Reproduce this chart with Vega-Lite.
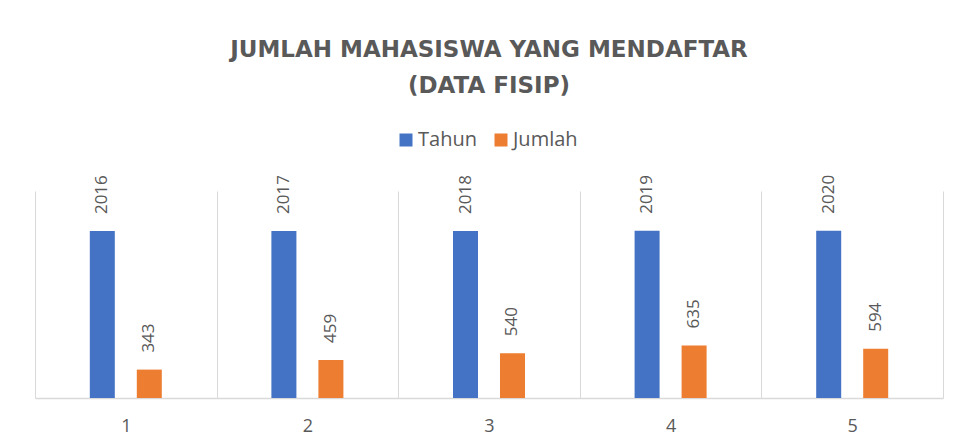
{
  "$schema": "https://vega.github.io/schema/vega-lite/v6.json",
  "width": 908,
  "height": 207,
  "autosize": {"type": "none"},
  "padding": {"left": 35, "top": 191, "right": 17, "bottom": 48},
  "background": "white",
  "title": {
    "text": ["JUMLAH MAHASISWA YANG MENDAFTAR", "(DATA FISIP)"],
    "anchor": "middle",
    "font": "DejaVu Sans",
    "fontSize": 23,
    "fontWeight": "bold",
    "color": "#595959",
    "lineHeight": 36,
    "offset": 32
  },
  "data": {
    "values": [
      {"cat": "1", "series": "Tahun", "value": 2016},
      {"cat": "1", "series": "Jumlah", "value": 343},
      {"cat": "2", "series": "Tahun", "value": 2017},
      {"cat": "2", "series": "Jumlah", "value": 459},
      {"cat": "3", "series": "Tahun", "value": 2018},
      {"cat": "3", "series": "Jumlah", "value": 540},
      {"cat": "4", "series": "Tahun", "value": 2019},
      {"cat": "4", "series": "Jumlah", "value": 635},
      {"cat": "5", "series": "Tahun", "value": 2020},
      {"cat": "5", "series": "Jumlah", "value": 594}
    ]
  },
  "encoding": {
    "x": {
      "field": "cat",
      "type": "nominal",
      "scale": {"paddingInner": 0, "paddingOuter": 0},
      "axis": {
        "title": null,
        "labelAngle": 0,
        "labelFont": "Open Sans",
        "labelFontSize": 18,
        "labelColor": "#595959",
        "labelPadding": 19,
        "ticks": false,
        "domainColor": "#D9D9D9",
        "domainWidth": 1.5,
        "grid": true,
        "gridColor": "#D9D9D9",
        "gridWidth": 1,
        "tickBand": "extent"
      }
    },
    "xOffset": {
      "field": "series",
      "type": "nominal",
      "sort": ["Tahun", "Jumlah"],
      "scale": {"domain": ["Tahun", "Jumlah"], "paddingInner": 0.136, "paddingOuter": 1}
    },
    "y": {
      "field": "value",
      "type": "quantitative",
      "scale": {"domain": [0, 2500]},
      "axis": null
    }
  },
  "layer": [
    {
      "mark": {"type": "bar", "width": 25},
      "encoding": {
        "color": {
          "field": "series",
          "type": "nominal",
          "scale": {"domain": ["Tahun", "Jumlah"], "range": ["#4472C4", "#ED7D31"]},
          "legend": {
            "title": null,
            "orient": "none",
            "direction": "horizontal",
            "legendX": 361,
            "legendY": -61,
            "padding": 0,
            "symbolType": "square",
            "symbolSize": 169,
            "symbolStrokeWidth": 0,
            "symbolOpacity": 1,
            "labelOffset": 2,
            "columnPadding": 14,
            "labelFont": "Open Sans",
            "labelFontSize": 20,
            "labelColor": "#595959"
          }
        }
      }
    },
    {
      "mark": {
        "type": "text",
        "angle": 270,
        "align": "left",
        "baseline": "middle",
        "dx": 17,
        "font": "Open Sans",
        "fontSize": 17,
        "color": "#595959"
      },
      "encoding": {
        "text": {"field": "value", "type": "quantitative", "format": "d"}
      }
    }
  ],
  "config": {
    "view": {"stroke": null}
  }
}
